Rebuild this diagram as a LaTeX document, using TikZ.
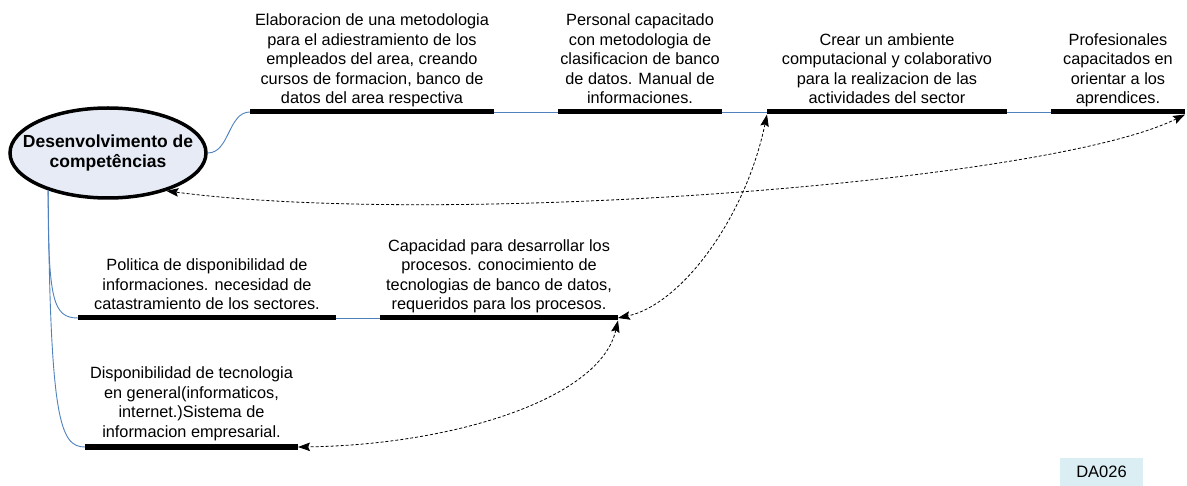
\documentclass[tikz,border=0pt]{standalone}
\usepackage{fontspec}
\setmainfont{Liberation Sans}
\usetikzlibrary{shapes.geometric,arrows.meta}
\definecolor{linkblue}{HTML}{4F81BD}
\definecolor{ellfill}{RGB}{230,235,246}
\definecolor{tagfill}{HTML}{DAEEF3}
\begin{document}
\begin{tikzpicture}[x=1pt,y=-1pt,
 bar/.style={fill=black,inner sep=0pt,outer sep=0pt,minimum height=5pt},
 lbl/.style={align=center,inner sep=0pt,text depth=4pt,anchor=south,font=\fontsize{16.3}{19.5}\selectfont},
 link/.style={linkblue,line width=0.9pt},
 dep/.style={black,line width=0.8pt,dash pattern=on 3pt off 2pt,{Stealth[length=12pt,width=8.5pt,inset=2pt]}-{Stealth[length=12pt,width=8.5pt,inset=2pt]}},
]
\useasboundingbox (0,0) rectangle (1187,486);

% central ellipse
\node[ellipse, draw, line width=3.5pt, fill=ellfill, minimum width=196pt, minimum height=90pt,
      inner xsep=-30pt, inner ysep=0pt, align=center, font=\bfseries\fontsize{17.5}{20.5}\selectfont] (e) at (108,153)
      {Desenvolvimento de\\competências};

% bars
\node[bar, minimum width=244pt] (b1) at (372,112) {};
\node[bar, minimum width=164pt] (b2) at (640,112) {};
\node[bar, minimum width=240pt] (b3) at (887,112) {};
\node[bar, minimum width=134pt] (b4) at (1118,112) {};
\node[bar, minimum width=258pt] (bA) at (207,318) {};
\node[bar, minimum width=238pt] (bB) at (499,318) {};
\node[bar, minimum width=213pt] (bD) at (191.5,447) {};

% labels
\node[lbl] (t1) at ([yshift=1.5pt]b1.north) {Elaboracion de una metodologia\\para el adiestramiento de los\\empleados del area, creando\\cursos de formacion, banco de\\datos del area respectiva};
\node[lbl] (t2) at ([yshift=1.5pt]b2.north) {Personal capacitado\\con metodologia de\\clasificacion de banco\\de datos. Manual de\\informaciones.};
\node[lbl] (t3) at ([yshift=1.5pt]b3.north) {Crear un ambiente\\computacional y colaborativo\\para la realizacion de las\\actividades del sector};
\node[lbl] (t4) at ([yshift=1.5pt]b4.north) {Profesionales\\capacitados en\\orientar a los\\aprendices.};
\node[lbl] (tA) at ([yshift=1.5pt]bA.north) {Politica de disponibilidad de\\informaciones. necesidad de\\catastramiento de los sectores.};
\node[lbl] (tB) at ([yshift=1.5pt]bB.north) {Capacidad para desarrollar los\\procesos. conocimiento de\\tecnologias de banco de datos,\\requeridos para los procesos.};
\node[lbl] (tD) at ([yshift=3pt]bD.north) {Disponibilidad de tecnologia\\en general(informaticos,\\internet.)Sistema de\\informacion empresarial.};

% blue links
\draw[link] (e.east) .. controls +(22,0) and +(-22,0) .. (b1.west);
\draw[link] (b1.east) -- (b2.west);
\draw[link] (b2.east) -- (b3.west);
\draw[link] (b3.east) -- (b4.west);
\draw[link] (bA.east) -- (bB.west);
\draw[link] (e.-148) .. controls +(0,110) and +(-25,0) .. (bA.west);
\draw[link] (e.-148) .. controls +(2,230) and +(-25,0) .. (bD.west);

% dashed dependencies
\draw[dep] (b4.south east) .. controls (1050,182) and (450,228) .. (e.-33);
\draw[dep] (b3.south west) .. controls (745,220) and (680,305) .. (bB.east);
\draw[dep] (bB.south east) .. controls (600,400) and (450,445) .. (bD.east);

% tag
\node[fill=tagfill, minimum width=83pt, minimum height=28pt, inner sep=0pt,
      font=\fontsize{16.5}{19}\selectfont] (tag) at (1101.5,472) {DA026};
\end{tikzpicture}
\end{document}
